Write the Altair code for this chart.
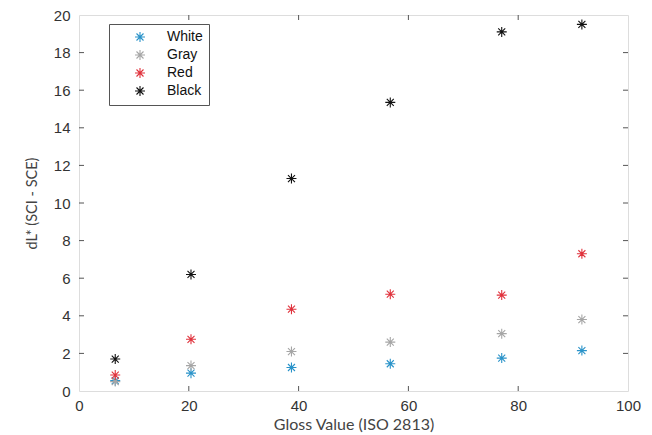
import altair as alt
import pandas as pd

gloss = [6.6, 20.4, 38.7, 56.7, 77.0, 91.6]
white = [0.55, 0.95, 1.25, 1.45, 1.75, 2.15]
gray = [0.5, 1.35, 2.1, 2.6, 3.05, 3.8]
red = [0.85, 2.75, 4.35, 5.15, 5.1, 7.3]
black = [1.7, 6.2, 11.3, 15.35, 19.1, 19.5]
series = ["White", "Gray", "Red", "Black"]
colors = ["#2a93c9", "#a6a6a6", "#e0323c", "#111111"]
x_ticks = [20, 40, 60, 80]
y_ticks = [2, 4, 6, 8, 10, 12, 14, 16, 18]

rows = []
for name, vals in zip(series, [white, gray, red, black]):
    for g, v in zip(gloss, vals):
        rows.append({"gloss": g, "dL": v, "series": name})
df = pd.DataFrame(rows)

W, H = 549, 376
star = "M-1,0L1,0M0,-1L0,1M-0.7,-0.7L0.7,0.7M-0.7,0.7L0.7,-0.7"
xs = alt.Scale(domain=[0, 100], nice=False)
ys = alt.Scale(domain=[0, 20], nice=False)
XT = "Gloss Value (ISO 2813)"
YT = "dL* (SCI - SCE)"

xaxis = alt.Axis(values=[0, 20, 40, 60, 80, 100], ticks=False, domain=False, grid=False,
                 labelOverlap=False, labelFlush=False, title=XT,
                 labelFont="Liberation Sans", labelFontSize=15, labelColor="#333333",
                 labelPadding=7, titleFont="Lato", titleFontSize=16, titleFontWeight="normal",
                 titleColor="#444444", titlePadding=3)
yaxis = alt.Axis(values=list(range(0, 21, 2)), ticks=False, domain=False, grid=False,
                 labelOverlap=False, labelFlush=False, title=YT,
                 labelFont="Liberation Sans", labelFontSize=15, labelColor="#333333",
                 labelPadding=9, titleFont="Lato", titleFontSize=14.5, titleFontWeight="normal",
                 titleColor="#444444", titlePadding=14)

points = alt.Chart(df).mark_point(shape=star, size=100, strokeWidth=1.1, filled=False, opacity=1).encode(
    x=alt.X("gloss:Q", scale=xs, title=XT, axis=xaxis),
    y=alt.Y("dL:Q", scale=ys, title=YT, axis=yaxis),
    color=alt.Color("series:N", scale=alt.Scale(domain=series, range=colors), sort=series,
                    legend=alt.Legend(title=None, orient="none", legendX=30, legendY=9,
                                      symbolType=star, symbolSize=100, symbolStrokeWidth=1.1,
                                      symbolFillColor="transparent",
                                      symbolOffset=18, labelOffset=20, padding=6,
                                      strokeColor="#555555", fillColor="white",
                                      labelFont="Liberation Sans", labelFontSize=14, labelColor="#111111",
                                      rowPadding=2)),
    order=alt.Order("ord:Q"),
).transform_calculate(ord="indexof(['White','Gray','Red','Black'], datum.series)")

xt = pd.DataFrame({"t": x_ticks})
yt = pd.DataFrame({"t": y_ticks})
tick_color = "#555555"
xb = alt.Chart(xt).mark_rule(color=tick_color).encode(
    x=alt.X("t:Q", scale=xs, title=XT, axis=xaxis), y=alt.value(H), y2=alt.value(H - 5))
xtp = alt.Chart(xt).mark_rule(color=tick_color).encode(
    x=alt.X("t:Q", scale=xs, title=XT, axis=xaxis), y=alt.value(0), y2=alt.value(5))
yl = alt.Chart(yt).mark_rule(color=tick_color).encode(
    y=alt.Y("t:Q", scale=ys, title=YT, axis=yaxis), x=alt.value(0), x2=alt.value(5))
yr = alt.Chart(yt).mark_rule(color=tick_color).encode(
    y=alt.Y("t:Q", scale=ys, title=YT, axis=yaxis), x=alt.value(W), x2=alt.value(W - 5))

chart = alt.layer(points, xb, xtp, yl, yr).properties(
    width=W, height=H,
    autosize=alt.AutoSizeParams(type="none"),
    padding={"left": 71, "top": 7, "right": 16, "bottom": 44},
).configure_view(stroke="#666666", strokeWidth=1).configure(background="white")

chart.save("out.html", embed_options={"renderer": "svg", "actions": False})
